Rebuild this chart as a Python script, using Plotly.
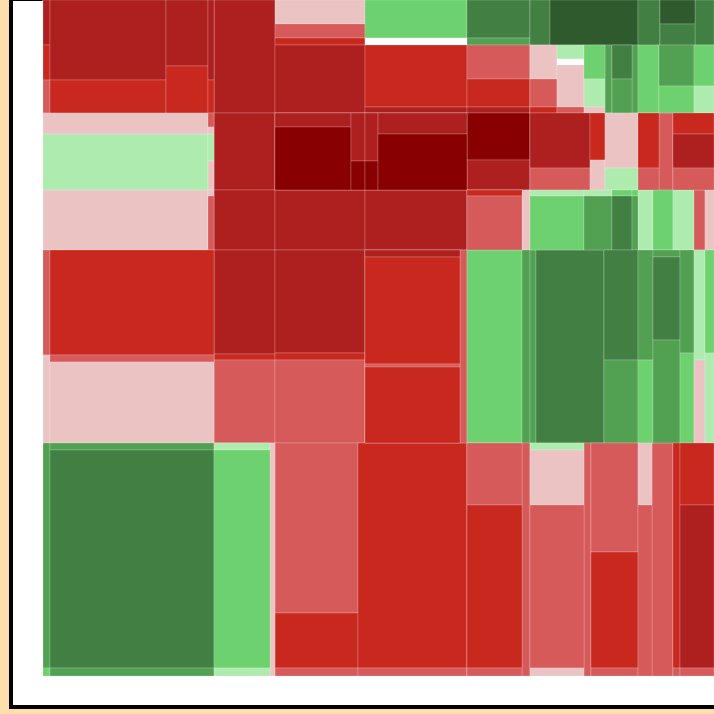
import plotly.graph_objects as go

# Tile values (area units) and change level for each tile.
# Nesting alternates rows / columns (dice-slice tiling).
band_a = [
    [[[(315, -3), (245, -2), (231, -1)], [(9280, -3), (3828, -2)],
      [(2772, -3), (1974, -2)], [(480, -3), (198, -2)]]],
    [(6893, -3)],
    [(2160, -0.5), (1260, -1), (630, -2), (6120, -3)],
    [(3876, 1), (714, 0), (6324, -2), (612, -3)],
    [(2394, 3), (441, 2), (2142, -1), (1764, -2), (378, -3)],
    [[(900, 3), (3960, 4)],
     [[(918, -0.5), (756, -1), (162, -2)],
      [(378, 0.5), (162, 0), (1134, -0.5), (162, -1)],
      [(714, 1), (588, 0.5), (126, -0.5)],
      (476, 2),
      [(680, 3), (680, 2)],
      (408, 2)]],
    [[(990, 3), [(840, 4), (735, 3)], (855, 3)],
     [(1428, 1), [(1435, 2), (945, 1)], [(820, 1), (540, 0.5)]]],
]
band_b = [
    [[[(3465, -0.5), (9240, 0.5)], [(84, -1), (42, -0.5), (162, 0.5), (174, -0.5)]]],
    [(4697, -3)],
    [[[(1064, -3), (4788, -4)], [(672, -3), (406, -4)]]],
    [[[(624, -3), (377, -4)], [(1869, -3), (4984, -4)]]],
    [(2961, -4), (1890, -3)],
    [[[(3300, -3), (1320, -1)], [(705, -2), (450, -0.5)], [(1815, -0.5), (726, 0.5)]]],
    [[[(1155, -2), (462, -1)], (1078, -1), [(861, -2), (1394, -3), (902, -1)]]],
]
band_c = [
    [[(9900, -0.5), [(36, -0.5), (324, -1)]]],
    [(3660, -3)],
    [(5400, -3)],
    [(6120, -3)],
    [[[(330, -2), (2970, -1)], (480, -0.5)]],
    [[[(324, 0.5), (2916, 1)], [(168, 0.5), (1512, 2)], [(120, 1), (1080, 3)], [(36, 1), (324, 2)]]],
    [[(900, 0.5), (1200, 1), (1260, 0.5), (660, -1), (540, -0.5)]],
]
band_d = [
    [[[(735, -1), (616, -0.5)], [(17220, -2), (1148, -1), (13284, -0.5)]]],
    [(6344, -3), (366, -2), (5063, -1)],
    [(9270, -3), (630, -2), (7470, -1)],
    [[[(665, -3), (10165, -2), (285, -1), (7220, -2)], (1351, -1)]],
    [[(10615, 1), (1544, 2)]],
    [[(1158, 2), (13124, 3), [(3740, 3), (2822, 2)]]],
    [[[(1650, 2), (1245, 1)], [(189, 2), (2241, 3), (2781, 2)], [(1442, 2), (1260, 1)],
      [(1210, 0.5), (913, -0.5)], [(927, 1), (810, 0.5)]]],
]
band_e = [
    [[[(1575, 2), (56, 1)], [(1148, 2), (35752, 3), (1312, 2)]]],
    [[[(392, 0.5), (12208, 1), (448, 0.5)], (1165, -0.5)]],
    [(14110, -1), (4565, -2), (664, -1)],
    [(24525, -2), (872, -1)],
    [[[(3410, -1), (8965, -2), (440, -1)], (1864, -1)]],
    [[[(378, 0.5), (2970, -0.5), (8802, -1), (432, -0.5)], (1631, -1),
      [(5123, -1), (5452, -2), (376, -1)], [(868, -0.5), (2394, -1)], (4893, -1)]],
    [[[(1575, -2), (56, -1)], [(2108, -2), (5542, -3), (272, -1)]]],
]
band_names = ["A", "B", "C", "D", "E"]
bands = [band_a, band_b, band_c, band_d, band_e]

palette = {
    -4: "#880000", -3: "#AE1F1F", -2: "#C9281F", -1: "#D65A5A", -0.5: "#EBC3C3",
    0: "#FFFFFF", 0.5: "#AEEBAE", 1: "#6ED16F", 2: "#52A052", 3: "#417F43", 4: "#2E5A2E",
}
clear = "rgba(0,0,0,0)"

ids, parents, values, colors = ["root"], [""], [0], [clear]


def add(item, parent, key):
    ids.append(key)
    parents.append(parent)
    if isinstance(item, tuple):
        values.append(item[0])
        colors.append(palette[item[1]])
    else:
        values.append(0)
        colors.append(clear)
        for i, child in enumerate(item):
            add(child, key, f"{key}.{i}")


for name, band in zip(band_names, bands):
    add(band, "root", name)

W = H = 714
fig = go.Figure(go.Treemap(
    ids=ids, parents=parents, values=values, labels=ids,
    branchvalues="remainder", sort=False,
    tiling=dict(packing="dice-slice", pad=0),
    marker=dict(colors=colors, line=dict(color="rgba(255,255,255,0.2)", width=1),
                pad=dict(t=0, l=0, r=0, b=0), depthfade=False),
    pathbar=dict(visible=False),
    textinfo="none", hoverinfo="skip",
    domain=dict(x=[43 / W, 1], y=[38 / H, 1]),
))
fig.update_layout(
    width=W, height=H,
    margin=dict(l=0, r=0, t=0, b=0),
    paper_bgcolor="#FFDEAD",
    shapes=[dict(type="rect", xref="paper", yref="paper", layer="below",
                 x0=11 / W, x1=1.05, y0=7 / H, y1=1 + 1 / H,
                 line=dict(color="black", width=4), fillcolor="white")],
)
fig.write_html(
    "out.html",
    config={"displayModeBar": False},
    post_script="document.body.style.margin='0';document.body.style.overflow='hidden';",
)
